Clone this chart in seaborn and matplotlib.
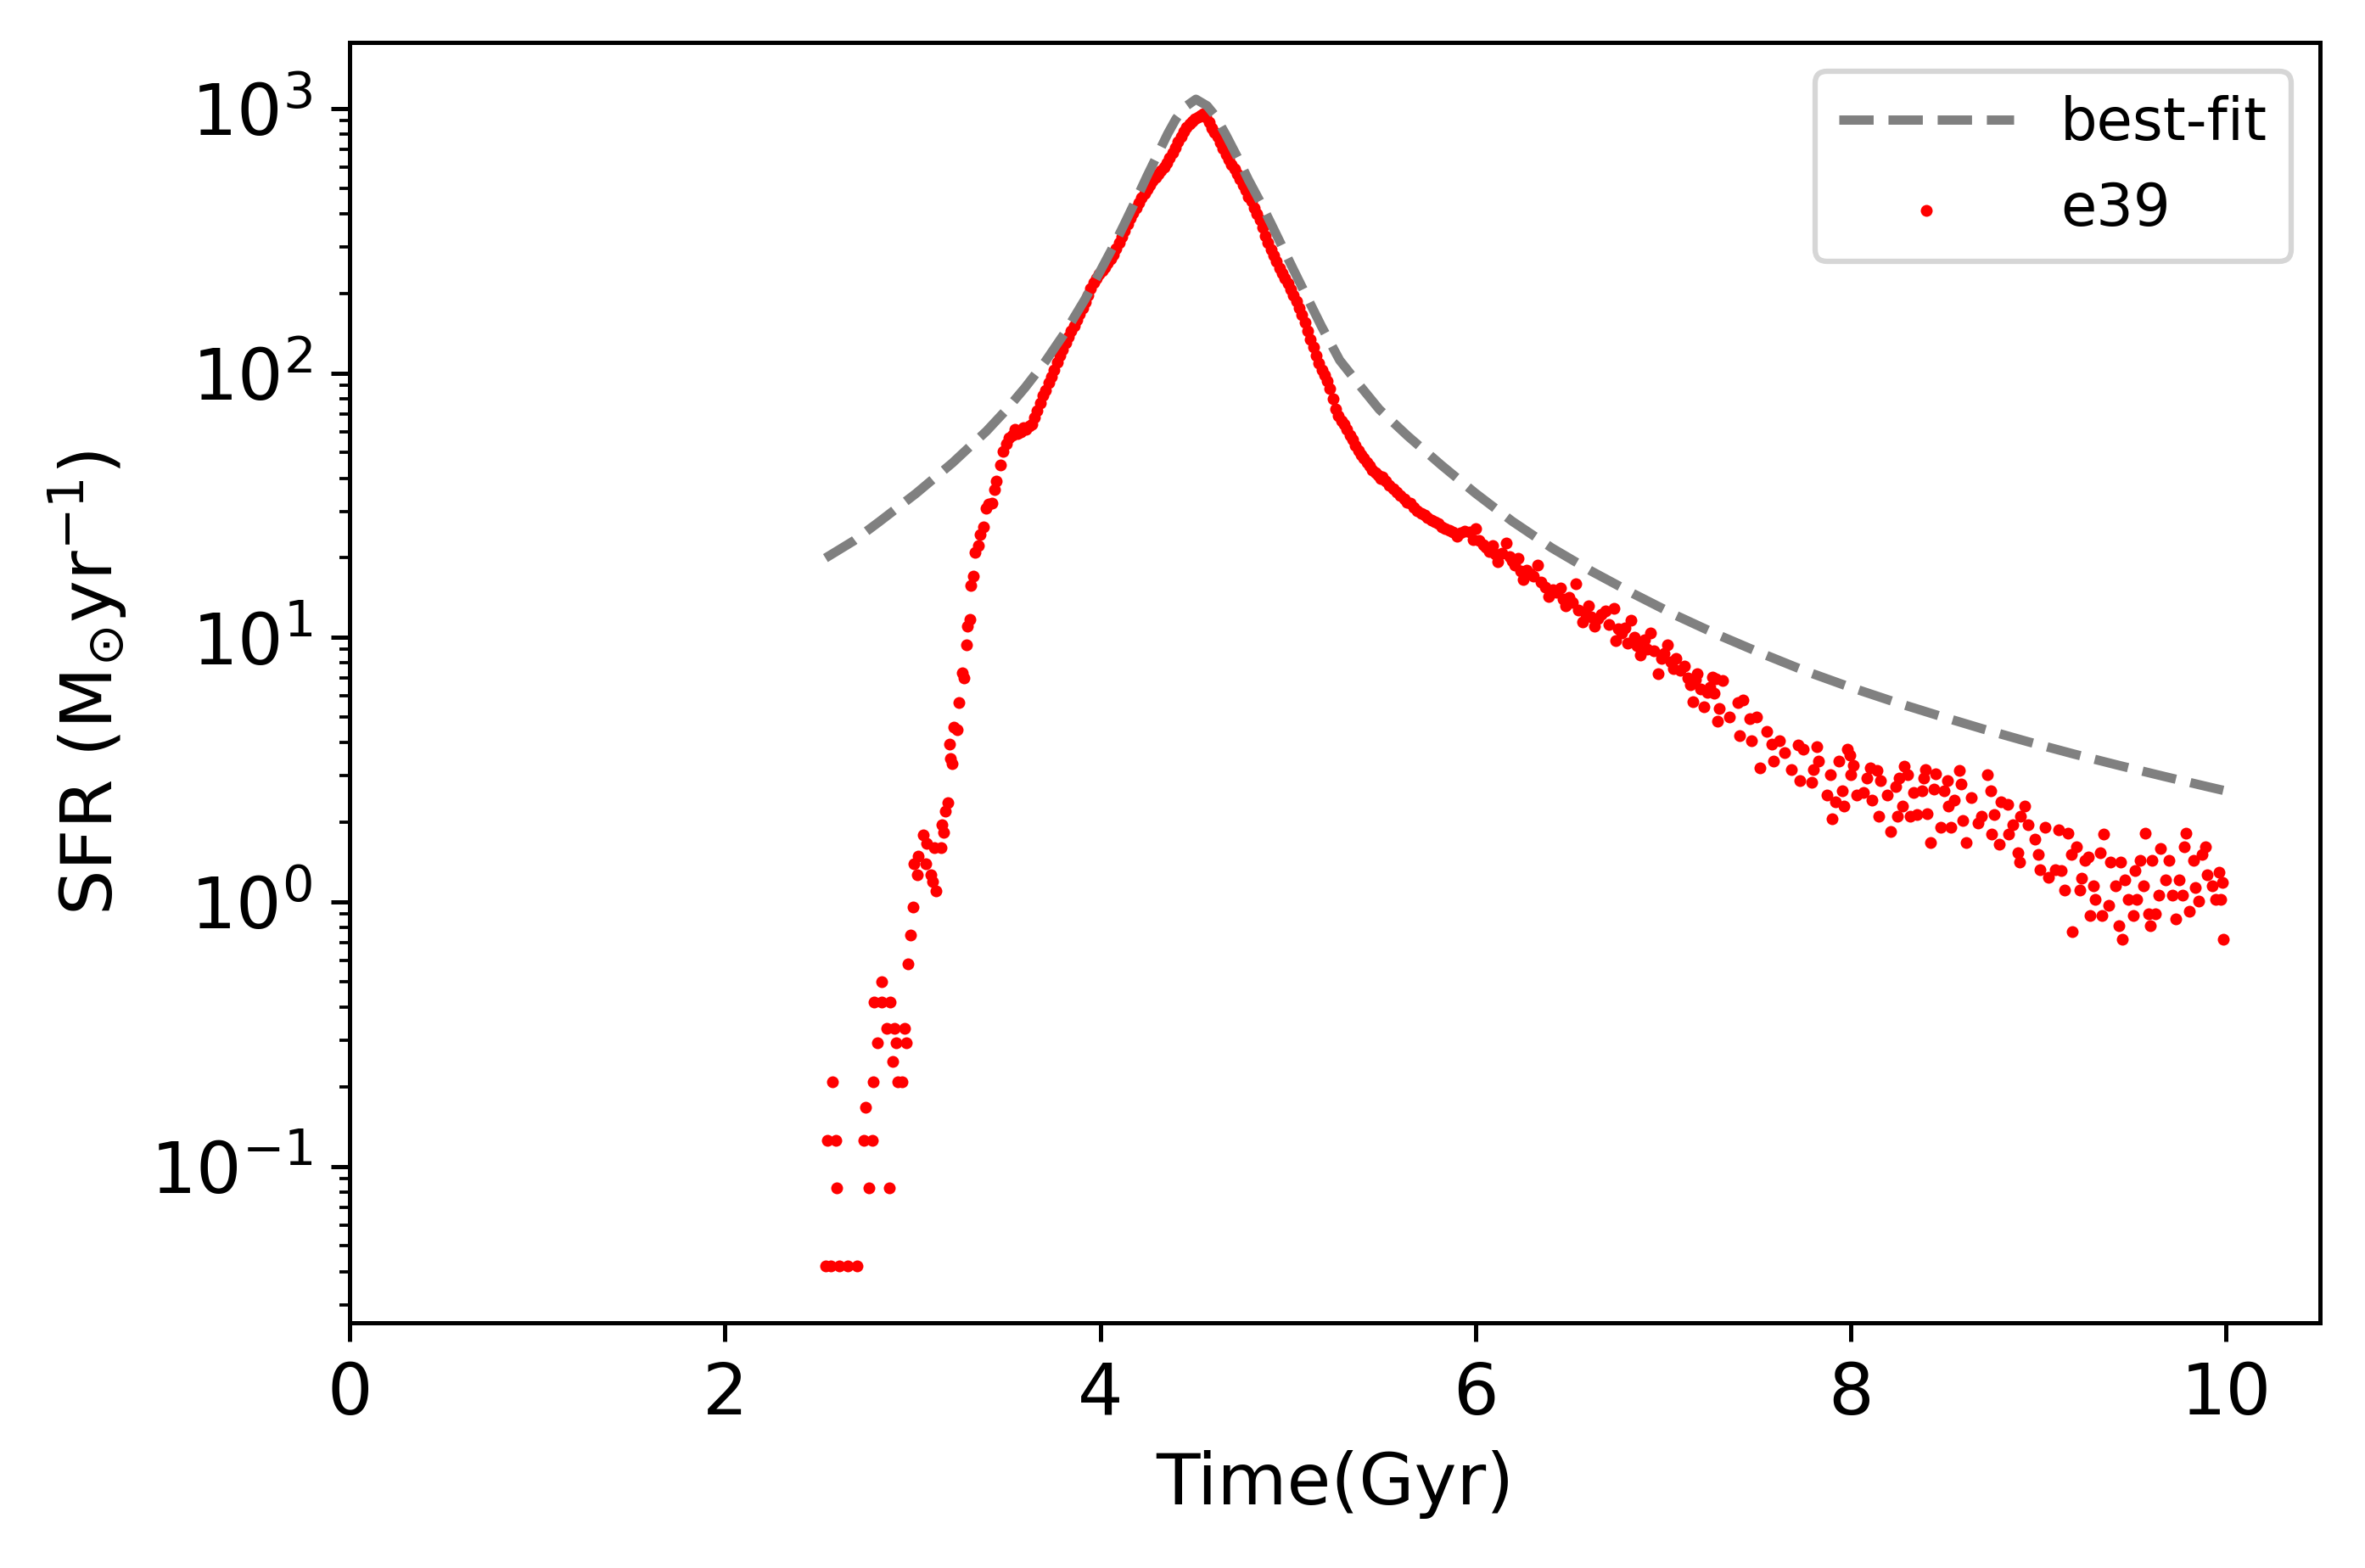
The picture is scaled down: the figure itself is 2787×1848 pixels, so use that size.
import numpy as np
import pandas as pd
import matplotlib
matplotlib.use("Agg")
import matplotlib.pyplot as plt
import seaborn as sns

# ---------------- data ----------------
# best-fit curve (Gyr, Msun/yr)
fit_t = [2.536, 2.686, 2.822, 3.018, 3.213, 3.394, 3.499, 3.60, 3.709, 3.81,
         3.92, 4.00, 4.071, 4.13, 4.191, 4.25, 4.312, 4.36, 4.403, 4.45,
         4.51, 4.57, 4.613, 4.67, 4.734, 4.79, 4.854, 4.91, 4.975, 5.03,
         5.096, 5.18, 5.276, 5.38, 5.487, 5.638, 5.818, 5.999, 6.195, 6.406,
         6.617, 6.843, 7.069, 7.295, 7.505, 7.757, 7.991, 8.229, 8.467, 8.706,
         8.944, 9.189, 9.428, 9.669, 9.905, 9.984]
fit_sfr = [19.95, 23.17, 27.35, 34.99, 45.71, 60.26, 72.44, 88.10, 110.9, 141.3,
           190.5, 242.7, 302.0, 367.3, 451.9, 555.9, 683.9, 803.5, 912.0, 1011.6,
           1084.0, 1023.0, 937.6, 794.3, 648.6, 537.0, 441.6, 367.3, 295.1, 245.5,
           197.2, 149.6, 111.7, 90.2, 72.8, 57.8, 44.8, 35.1, 27.5, 21.8,
           17.8, 14.6, 12.1, 10.2, 8.81, 7.46, 6.50, 5.71, 5.06, 4.50,
           4.03, 3.62, 3.28, 2.98, 2.72, 2.64]

# simulation e39: early rise
t_early = [2.536, 2.548, 2.566, 2.572, 2.591, 2.596, 2.611, 2.653, 2.704, 2.739,
           2.751, 2.766, 2.784, 2.792, 2.795, 2.814, 2.834, 2.837, 2.864, 2.874,
           2.882, 2.893, 2.905, 2.912, 2.920, 2.945, 2.957, 2.968, 2.974, 2.987,
           3.005, 3.008, 3.025, 3.032, 3.055, 3.070, 3.075, 3.096, 3.105, 3.115,
           3.123, 3.150, 3.156, 3.165, 3.173, 3.186, 3.195, 3.203, 3.210, 3.221,
           3.236, 3.248, 3.263, 3.273, 3.286, 3.293, 3.304, 3.311, 3.326, 3.334,
           3.349, 3.361, 3.379, 3.390, 3.405, 3.424, 3.439, 3.447, 3.469, 3.484,
           3.500, 3.515, 3.530, 3.545, 3.560, 3.575, 3.590, 3.605, 3.620, 3.635]
sfr_early = [0.042, 0.125, 0.042, 0.208, 0.125, 0.083, 0.042, 0.042, 0.042, 0.125,
             0.167, 0.083, 0.125, 0.208, 0.417, 0.292, 0.500, 0.417, 0.333, 0.083,
             0.417, 0.250, 0.333, 0.292, 0.208, 0.208, 0.333, 0.292, 0.583, 0.750,
             0.958, 1.39, 1.27, 1.49, 1.79, 1.39, 1.66, 1.27, 1.19, 1.60,
             1.10, 1.60, 1.95, 1.83, 2.20, 2.38, 3.94, 3.48, 3.33, 4.57,
             4.46, 5.65, 7.35, 7.00, 9.40, 11.0, 11.7, 15.7, 17.1, 21.0,
             22.3, 24.4, 26.2, 30.8, 32.0, 32.3, 36.2, 39.0, 44.8, 50.5,
             53.8, 57.0, 58.0, 61.0, 59.0, 60.0, 62.0, 61.0, 63.0, 64.0]

# simulation e39: main peak
t_peak = [3.650, 3.665, 3.680, 3.695, 3.710, 3.725, 3.740, 3.755, 3.770, 3.785,
          3.800, 3.815, 3.830, 3.845, 3.860, 3.875, 3.890, 3.905, 3.920, 3.935,
          3.950, 3.965, 3.980, 3.995, 4.010, 4.025, 4.040, 4.055, 4.070, 4.085,
          4.100, 4.115, 4.130, 4.145, 4.160, 4.175, 4.190, 4.205, 4.220, 4.235,
          4.250, 4.265, 4.280, 4.295, 4.310, 4.325, 4.340, 4.355, 4.370, 4.385,
          4.400, 4.415, 4.430, 4.445, 4.460, 4.475, 4.490, 4.505, 4.520, 4.535,
          4.550, 4.565, 4.580, 4.595, 4.610, 4.625, 4.640, 4.655, 4.670, 4.685,
          4.700, 4.715, 4.730, 4.745, 4.760, 4.775, 4.790, 4.805, 4.820, 4.835,
          4.850, 4.865, 4.880, 4.895, 4.910, 4.925, 4.940, 4.955, 4.970, 4.985,
          5.000, 5.015, 5.030, 5.045, 5.060, 5.075, 5.090, 5.105, 5.120, 5.135,
          5.150, 5.165, 5.180, 5.195, 5.210, 5.225, 5.240, 5.255, 5.270, 5.285,
          5.300, 5.315, 5.330, 5.345, 5.360, 5.375, 5.390, 5.405, 5.420, 5.435,
          5.450, 5.465, 5.480, 5.495]
sfr_peak = [68, 72, 77, 82, 86, 92, 97, 103, 110, 116,
            123, 130, 137, 144, 151, 159, 167, 176, 186, 196,
            208, 219, 228, 236, 243, 251, 261, 270, 280, 295,
            310, 327, 346, 366, 386, 403, 420, 440, 459, 476,
            494, 512, 532, 549, 566, 584, 602, 622, 650, 678,
            710, 748, 785, 820, 850, 877, 897, 912, 925, 940,
            955, 930, 885, 845, 810, 780, 745, 705, 670, 640,
            615, 590, 565, 540, 515, 490, 465, 445, 420, 400,
            380, 355, 330, 310, 292, 278, 265, 250, 238, 228,
            218, 207, 197, 187, 176, 166, 155, 144, 134, 125,
            116, 109, 103, 98, 93, 87, 80, 73, 69, 66,
            64, 61, 58, 56, 53, 51, 49, 47.5, 46, 44.5,
            43, 42, 41, 40]

# simulation e39: decline
t_mid = [5.502, 5.520, 5.540, 5.560, 5.578, 5.600, 5.620, 5.636, 5.653, 5.670,
         5.690, 5.710, 5.728, 5.745, 5.765, 5.785, 5.803, 5.820, 5.840, 5.860,
         5.879, 5.900, 5.920, 5.940, 5.969, 5.985, 5.999, 6.020, 6.040, 6.055,
         6.074, 6.090, 6.105, 6.120, 6.140, 6.165, 6.180, 6.195, 6.210, 6.225,
         6.240, 6.255, 6.270, 6.290, 6.310, 6.330, 6.350, 6.370, 6.390, 6.410,
         6.430, 6.451, 6.465, 6.481, 6.500, 6.515, 6.534, 6.550, 6.571, 6.585,
         6.601, 6.617, 6.632, 6.650, 6.670, 6.692, 6.710, 6.737, 6.745, 6.760,
         6.780, 6.795, 6.812, 6.827, 6.845, 6.862, 6.880, 6.900, 6.915, 6.933,
         6.950, 6.971, 6.990, 7.005, 7.023, 7.040, 7.053, 7.070, 7.090, 7.114,
         7.130, 7.144, 7.159, 7.170, 7.182, 7.200, 7.219, 7.235, 7.250, 7.264]
sfr_mid = [40.6, 39.0, 37.5, 36.5, 35.4, 34.5, 33.5, 32.5, 32.1, 31.0,
           30.2, 29.5, 29.1, 28.3, 27.8, 27.3, 27.0, 26.2, 25.8, 25.4,
           25.1, 24.2, 24.8, 25.3, 25.0, 23.5, 25.7, 23.3, 22.4, 21.9,
           21.1, 22.3, 20.6, 19.4, 20.8, 22.7, 20.2, 19.5, 18.7, 19.9,
           17.8, 16.5, 18.0, 17.4, 17.0, 18.7, 16.2, 15.5, 14.3, 15.1,
           14.8, 15.4, 14.0, 13.2, 14.2, 13.6, 15.9, 12.7, 11.4, 12.4,
           13.2, 12.0, 11.0, 11.8, 12.2, 12.6, 11.2, 12.9, 9.7, 10.8,
           10.4, 10.9, 9.5, 11.6, 10.0, 9.3, 8.6, 9.8, 9.0, 10.4,
           8.9, 7.3, 8.3, 8.7, 9.4, 8.1, 7.6, 8.3, 7.5, 7.8,
           7.0, 6.6, 5.7, 6.9, 7.3, 6.4, 5.45, 6.2, 6.5, 7.1]

# simulation e39: noisy tail
t_late = [7.273, 7.282, 7.291, 7.300, 7.318, 7.353, 7.398, 7.407, 7.425, 7.461,
          7.470, 7.496, 7.514, 7.550, 7.577, 7.586, 7.621, 7.648, 7.684, 7.720,
          7.729, 7.746, 7.791, 7.800, 7.818, 7.827, 7.872, 7.889, 7.898, 7.916,
          7.934, 7.952, 7.961, 7.979, 7.997, 8.000, 8.015, 8.032, 8.068, 8.086,
          8.104, 8.113, 8.140, 8.149, 8.158, 8.193, 8.211, 8.238, 8.247, 8.256,
          8.274, 8.283, 8.300, 8.318, 8.336, 8.354, 8.381, 8.386, 8.399, 8.408,
          8.426, 8.443, 8.452, 8.479, 8.497, 8.515, 8.520, 8.533, 8.551, 8.577,
          8.586, 8.595, 8.613, 8.640, 8.676, 8.694, 8.729, 8.747, 8.752, 8.765,
          8.792, 8.801, 8.837, 8.840, 8.863, 8.890, 8.899, 8.905, 8.926, 8.944,
          8.980, 8.997, 9.006, 9.033, 9.051, 9.087, 9.105, 9.122, 9.140, 9.158,
          9.176, 9.180, 9.203, 9.221, 9.230, 9.248, 9.265, 9.274, 9.292, 9.301,
          9.328, 9.337, 9.346, 9.373, 9.382, 9.408, 9.426, 9.435, 9.444, 9.462,
          9.480, 9.507, 9.516, 9.525, 9.542, 9.560, 9.569, 9.587, 9.596, 9.605,
          9.623, 9.641, 9.650, 9.676, 9.694, 9.712, 9.730, 9.748, 9.766, 9.775,
          9.784, 9.802, 9.828, 9.837, 9.855, 9.873, 9.891, 9.900, 9.927, 9.945,
          9.962, 9.971, 9.980, 9.984]
sfr_late = [6.17, 6.97, 4.82, 5.38, 6.89, 5.00, 5.66, 4.26, 5.80, 4.94,
            4.06, 5.00, 3.21, 4.42, 3.96, 3.41, 4.06, 3.67, 3.17, 3.91,
            2.87, 3.77, 2.84, 3.17, 3.86, 3.41, 2.54, 3.02, 2.06, 2.39,
            3.41, 2.63, 2.30, 3.77, 3.59, 3.02, 3.29, 2.54, 2.60, 2.94,
            3.21, 2.42, 3.13, 2.11, 2.87, 2.54, 1.84, 2.73, 2.11, 2.94,
            2.30, 3.25, 3.02, 2.11, 2.60, 2.14, 2.63, 2.94, 3.17, 2.16,
            1.67, 2.67, 3.05, 1.91, 2.63, 2.87, 2.30, 1.91, 2.42, 3.13,
            2.80, 2.03, 1.67, 2.48, 1.99, 2.11, 3.02, 2.63, 1.80, 2.14,
            1.65, 2.39, 2.33, 1.80, 1.96, 1.53, 1.41, 2.11, 2.30, 1.96,
            1.73, 1.51, 1.32, 1.91, 1.24, 1.32, 1.87, 1.31, 1.11, 1.82,
            1.51, 0.77, 1.61, 1.11, 1.23, 1.44, 1.48, 0.89, 1.15, 1.02,
            1.53, 0.89, 1.80, 0.97, 1.41, 1.15, 0.81, 1.41, 0.72, 1.21,
            1.02, 0.89, 1.31, 1.02, 1.44, 1.15, 1.82, 0.90, 0.81, 1.44,
            0.90, 1.06, 1.59, 1.21, 1.44, 1.06, 0.86, 1.21, 1.06, 1.61,
            1.82, 0.92, 1.44, 1.13, 1.01, 1.51, 1.61, 1.27, 1.15, 1.02,
            1.29, 1.02, 1.18, 0.72]

x_ticks = [0, 2, 4, 6, 8, 10]

# ---------------- plotting ----------------
fit_df = pd.DataFrame({"t": fit_t, "sfr": fit_sfr})
sim_df = pd.DataFrame({
    "t": t_early + t_peak + t_mid + t_late,
    "sfr": sfr_early + sfr_peak + sfr_mid + sfr_late,
})

DPI = 450
fig = plt.figure(figsize=(2787 / DPI, 1848 / DPI), dpi=DPI)
ax = fig.add_axes([0.1478, 0.1564, 0.981 - 0.1478, 0.973 - 0.1564])

sns.lineplot(data=fit_df, x="t", y="sfr", ax=ax, color="gray",
             linestyle="--", linewidth=1.75, label="best-fit",
             sort=False, estimator=None)
sns.scatterplot(data=sim_df, x="t", y="sfr", ax=ax, color="red", s=5,
                linewidth=0, label="e39")

ax.set_yscale("log")
ax.set_xlim(0, 10.5)
ax.set_ylim(0.0256, 1779)
ax.set_xticks(x_ticks)
ax.set_xlabel("Time(Gyr)", fontsize=13.5)
ax.set_ylabel(r"SFR (M$_{\odot}$yr$^{-1}$)", fontsize=13.5)
ax.tick_params(axis="both", which="major", labelsize=13.5)
ax.legend(fontsize=11, handlelength=3.0, loc="upper right")

fig.savefig("out.png", dpi=DPI)
